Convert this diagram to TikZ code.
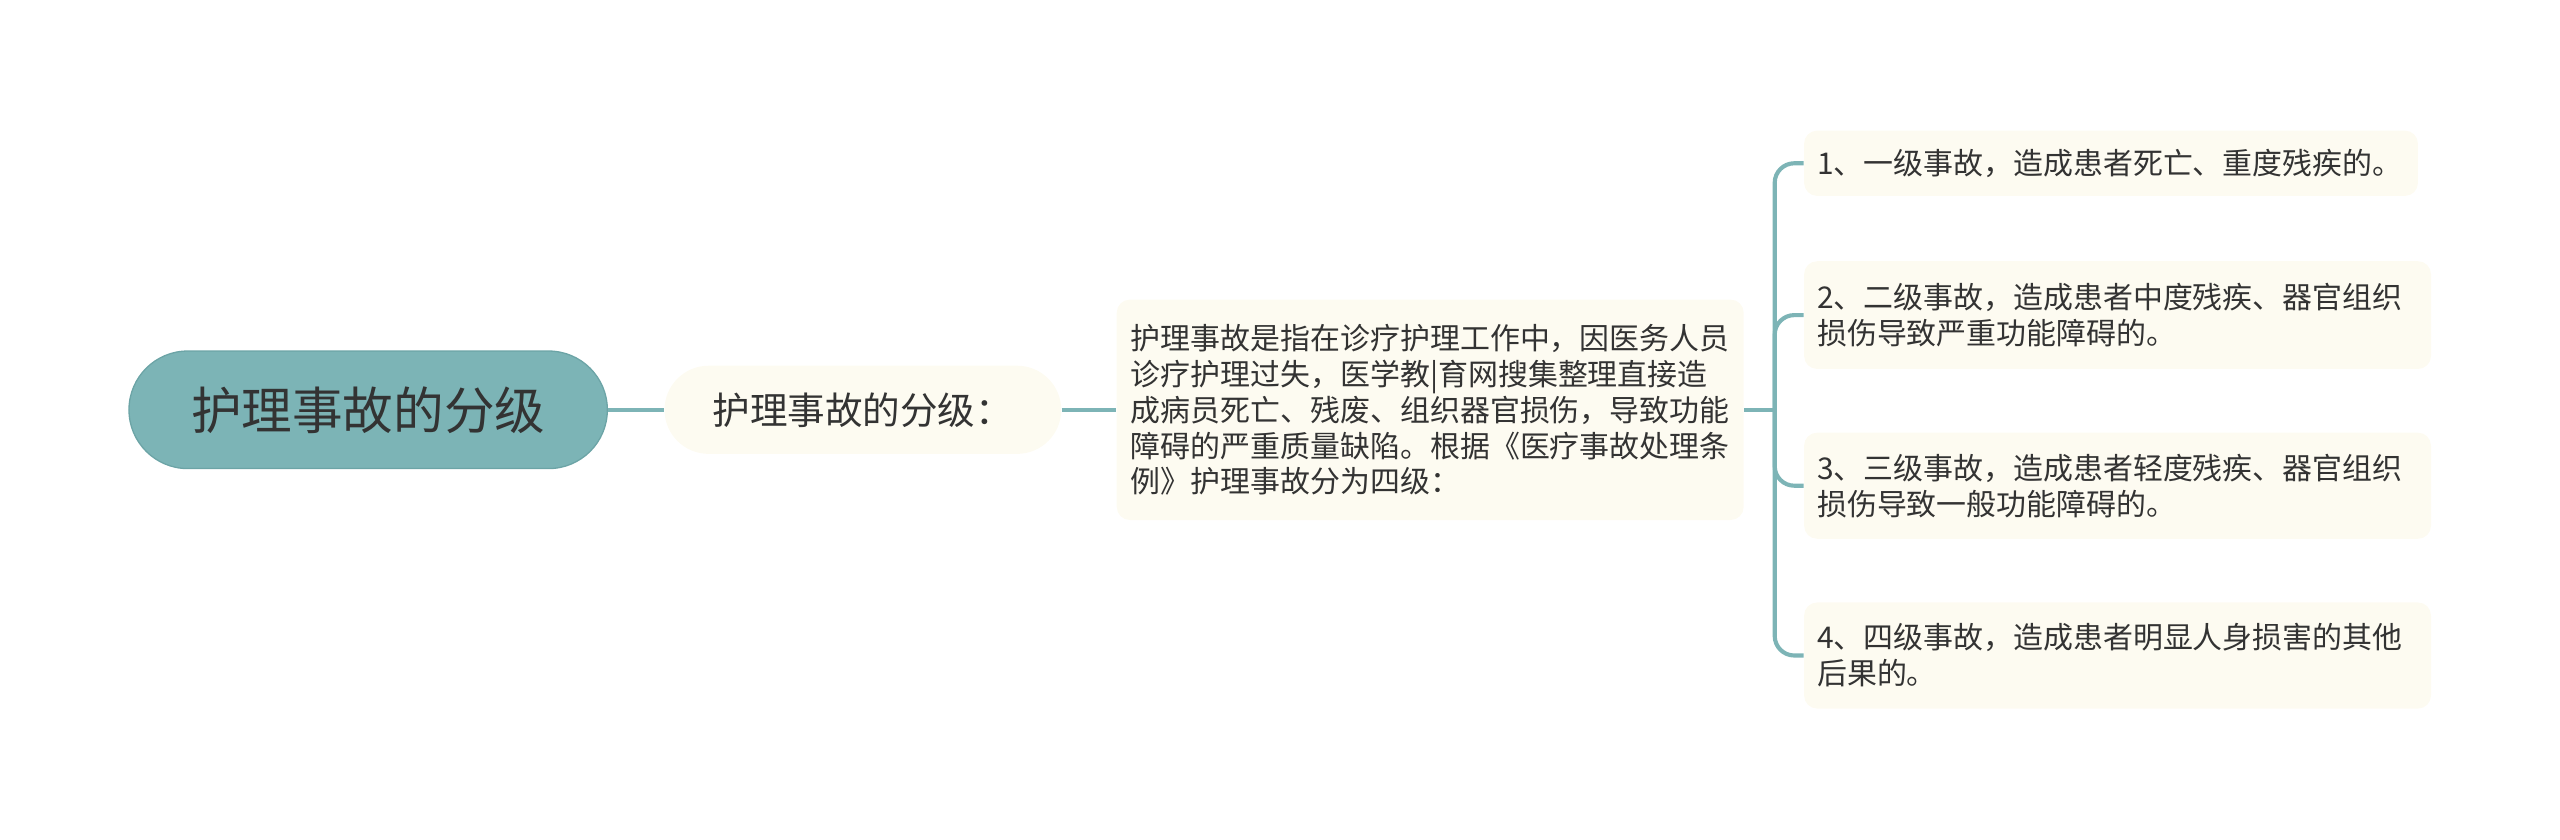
\documentclass[tikz,border=0pt]{standalone}
\usepackage{fontspec}
\newfontfamily\cjk{Noto Sans CJK SC}
\definecolor{rootc}{HTML}{7CB4B6}
\definecolor{rootd}{HTML}{6CA4A6}
\definecolor{linec}{HTML}{7DB4B6}
\definecolor{creamc}{HTML}{FDFBF1}
\definecolor{textc}{HTML}{333333}
\begin{document}
\begin{tikzpicture}[x=0.75pt,y=-0.75pt,
  txt/.style={font=\cjk, text=textc, inner sep=0pt},
  rootbox/.style={txt, fill=rootc, draw=rootd, line width=0.6pt, rounded corners=27pt,
    minimum width=219.75pt, minimum height=54pt, font=\cjk\fontsize{23.25pt}{28pt}\selectfont},
  subbox/.style={txt, fill=creamc, rounded corners=20.25pt,
    minimum width=182.25pt, minimum height=40.5pt, font=\cjk\fontsize{17.25pt}{21pt}\selectfont},
  descbox/.style={txt, fill=creamc, rounded corners=6pt, align=left,
    minimum width=288pt, minimum height=101.25pt, font=\cjk\fontsize{13.75pt}{16.5pt}\selectfont},
  leafbox/.style={txt, fill=creamc, rounded corners=6pt, align=left, inner xsep=6pt,
    minimum height=#1, font=\cjk\fontsize{13.75pt}{16.5pt}\selectfont},
  conn/.style={draw=linec, line width=1.9pt},
  brk/.style={conn, rounded corners=9pt}
]
\useasboundingbox (0,0) rectangle (1568,514);

\node[rootbox] (root) at (225.5,251) {护理事故的分级};
\node[subbox] (sub) at (528.5,251) {护理事故的分级：};
\node[descbox] (desc) at (876,251) {护理事故是指在诊疗护理工作中，因医务人员\\诊疗护理过失，医学教|育网搜集整理直接造\\成病员死亡、残废、组织器官损伤，导致功能\\障碍的严重质量缺陷。根据《医疗事故处理条\\例》护理事故分为四级：};

\node[leafbox=30pt, text width=270pt] (c1) at (1293,100) {1、一级事故，造成患者死亡、重度残疾的。};
\node[leafbox=49.5pt, text width=276pt] (c2) at (1297,193) {2、二级事故，造成患者中度残疾、器官组织\\损伤导致严重功能障碍的。};
\node[leafbox=48.75pt, text width=276pt] (c3) at (1297,297.5) {3、三级事故，造成患者轻度残疾、器官组织\\损伤导致一般功能障碍的。};
\node[leafbox=48.75pt, text width=276pt] (c4) at (1297,401.5) {4、四级事故，造成患者明显人身损害的其他\\后果的。};

\coordinate (j) at (1087,251);

\draw[conn] (root.east) -- (sub.west);
\draw[conn] (sub.east) -- (desc.west);
\draw[conn] (desc.east) -- (j);
\draw[brk] (j) |- (c1.west);
\draw[brk] (j) |- (c2.west);
\draw[brk] (j) |- (c3.west);
\draw[brk] (j) |- (c4.west);
\end{tikzpicture}
\end{document}
